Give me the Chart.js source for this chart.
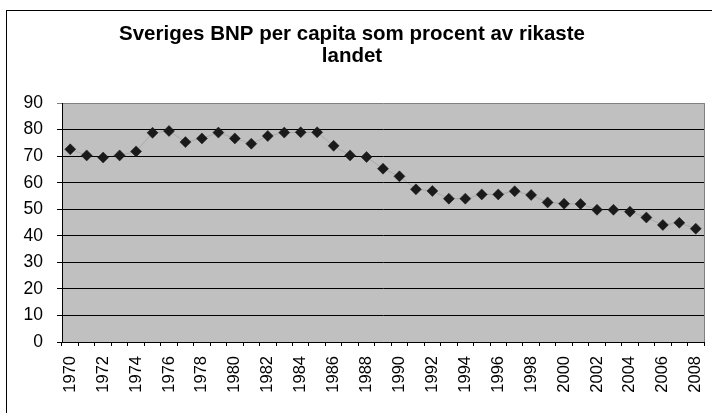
<!DOCTYPE html>
<html>
<head>
<meta charset="utf-8">
<script src="https://cdn.jsdelivr.net/npm/chart.js@4"></script>
<style>
    body { margin: 0; background: #fff; }
    #wrap { position: relative; width: 712px; height: 413px; overflow: hidden; }
    #frame { position: absolute; left: 6px; top: 10px; width: 720px; height: 420px; border: 1.5px solid #000; box-sizing: border-box; }
    canvas { position: absolute; left: 0; top: 0; }
</style>
</head>
<body>
<div id="wrap">
    <div id="frame"></div>
    <canvas id="chart" width="712" height="413"></canvas>
</div>
<script>
// Årtal och värden (procent av rikaste landet)
const years = [];
for (let y = 1970; y <= 2008; y++) years.push(String(y));

const values = [
    72.6, 70.3, 69.5, 70.3, 71.8, 78.8, 79.5, 75.3, 76.7, 78.9,
    76.7, 74.7, 77.6, 78.9, 79.0, 79.0, 73.9, 70.3, 69.7, 65.3,
    62.4, 57.5, 56.9, 54.0, 54.0, 55.6, 55.6, 56.8, 55.4, 52.6,
    52.1, 52.0, 49.8, 49.8, 49.1, 46.9, 44.1, 44.9, 42.7
];

const yTicks = [0, 10, 20, 30, 40, 50, 60, 70, 80, 90];

const font = 'Arial, "Liberation Sans", sans-serif';

new Chart(document.getElementById('chart'), {
    type: 'line',
    data: {
        labels: years,
        datasets: [{
            data: values,
            borderColor: 'rgba(40, 40, 40, 0.15)',
            borderWidth: 1,
            pointStyle: 'rectRot',
            pointRadius: 5.5,
            pointBackgroundColor: '#1a1a1a',
            pointBorderColor: '#1a1a1a',
            pointBorderWidth: 0.5,
            tension: 0
        }]
    },
    options: {
        responsive: false,
        animation: false,
        layout: { padding: { left: 0, right: 8, top: 0, bottom: 0 } },
        plugins: {
            legend: { display: false },
            tooltip: { enabled: false },
            title: {
                display: true,
                text: ['Sveriges BNP per capita som procent av rikaste', 'landet'],
                color: '#000',
                font: { family: font, size: 20.5, weight: 'bold', lineHeight: 1.1 },
                padding: { top: 23, bottom: 35 }
            }
        },
        scales: {
            x: {
                offset: true,
                grid: {
                    display: true,
                    drawOnChartArea: false,
                    drawTicks: true,
                    tickLength: 4,
                    offset: true,
                    color: '#000'
                },
                border: { color: '#000', width: 1 },
                ticks: {
                    autoSkip: false,
                    maxRotation: 90,
                    minRotation: 90,
                    padding: 10,
                    color: '#000',
                    font: { family: font, size: 16.5 },
                    callback: function (val, i) {
                        return i % 2 === 0 ? years[i] : '';
                    }
                },
                afterFit: function (scale) {
                    scale.height = 71;
                    scale.paddingLeft = 0;
                    scale.paddingRight = 0;
                }
            },
            y: {
                min: 0,
                max: 90,
                afterBuildTicks: function (scale) {
                    scale.ticks = yTicks.map(v => ({ value: v }));
                },
                grid: {
                    color: function (ctx) {
                        return ctx.tick && ctx.tick.value === 90 ? '#808080' : '#000';
                    },
                    lineWidth: 1,
                    tickLength: 5
                },
                border: { color: '#000', width: 1 },
                ticks: {
                    color: '#000',
                    padding: 14,
                    font: { family: font, size: 17.5 }
                },
                afterFit: function (scale) { scale.width = 62; }
            }
        }
    },
    plugins: [{
        id: 'plotBg',
        beforeDraw: function (chart) {
            const a = chart.chartArea;
            const ctx = chart.ctx;
            ctx.save();
            ctx.fillStyle = '#c0c0c0';
            ctx.fillRect(a.left, a.top, a.right - a.left, a.bottom - a.top);
            ctx.strokeStyle = '#808080';
            ctx.lineWidth = 1;
            ctx.beginPath();
            ctx.moveTo(a.right + 0.5, a.top);
            ctx.lineTo(a.right + 0.5, a.bottom);
            ctx.stroke();
            ctx.restore();
        }
    }]
});
</script>
</body>
</html>
